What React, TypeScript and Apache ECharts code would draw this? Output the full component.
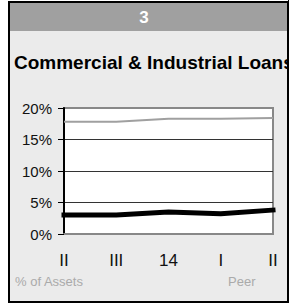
import React, { useEffect, useRef } from "react";
import * as echarts from "echarts";

const categories = ["II", "III", "14", "I", "II"];
const peerValues = [17.8, 17.8, 18.3, 18.3, 18.4];
const bankValues = [3.0, 3.0, 3.5, 3.2, 3.8];
const yTicks = [0, 5, 10, 15, 20];

const FONT = "Liberation Sans, Arial, sans-serif";

export default function App() {
  const ref = useRef<HTMLDivElement>(null);
  useEffect(() => {
    if (!ref.current) return;
    const chart = echarts.init(ref.current, null, { renderer: "svg" });
    chart.setOption({
      animation: false,
      backgroundColor: "#ffffff",
      graphic: [
        {
          type: "rect",
          z: -10,
          shape: { x: 9, y: 2, width: 279, height: 300 },
          style: { fill: "#ebebeb", stroke: "#000", lineWidth: 2 },
        },
        {
          type: "rect",
          z: -9,
          shape: { x: 10, y: 3, width: 277, height: 28 },
          style: { fill: "#a0a0a0" },
        },
        {
          type: "text",
          z: -8,
          x: 144,
          y: 17,
          style: {
            text: "3",
            fill: "#fff",
            font: `bold 17px ${FONT}`,
            align: "center",
            verticalAlign: "middle",
          },
        },
        {
          type: "text",
          z: -8,
          x: 14,
          y: 62,
          style: {
            text: "Commercial & Industrial Loans",
            fill: "#000",
            font: `bold 19px ${FONT}`,
            align: "left",
            verticalAlign: "middle",
          },
        },
        {
          type: "rect",
          z: -7,
          shape: { x: 288, y: 0, width: 4, height: 303 },
          style: { fill: "#000" },
        },
        {
          type: "text",
          x: 15,
          y: 281,
          style: {
            text: "% of Assets",
            fill: "#aaaaaa",
            font: `13px ${FONT}`,
            align: "left",
            verticalAlign: "middle",
          },
        },
        {
          type: "text",
          x: 228,
          y: 281,
          style: {
            text: "Peer",
            fill: "#aaaaaa",
            font: `13px ${FONT}`,
            align: "left",
            verticalAlign: "middle",
          },
        },
      ],
      grid: {
        left: 64,
        right: 16,
        top: 108,
        bottom: 69,
        show: true,
        backgroundColor: "#ffffff",
        borderColor: "#888888",
        borderWidth: 2,
      },
      xAxis: {
        type: "category",
        data: categories.map((c) => ({ value: c, textStyle: { color: "#111111" } })),
        boundaryGap: false,
        axisLine: { show: true, lineStyle: { color: "#888888", width: 2 } },
        axisTick: { show: false },
        axisLabel: {
          color: () => "#111111",
          fontSize: 17,
          fontFamily: FONT,
          margin: 18,
        },
        splitLine: { show: false },
      },
      yAxis: {
        type: "value",
        min: 0,
        max: 20,
        interval: 5,
        axisLine: { show: true, lineStyle: { color: "#000", width: 2 } },
        axisTick: { show: true, length: 6, lineStyle: { color: "#000", width: 1 } },
        axisLabel: {
          color: "#111",
          fontSize: 15,
          fontFamily: FONT,
          margin: 12,
          formatter: (v: number) => (yTicks.includes(v) ? `${v}%` : ""),
        },
        splitLine: {
          show: true,
          lineStyle: { color: ["#888888", "#333333", "#333333", "#333333", "#888888"], width: 1 },
        },
      },
      series: [
        {
          type: "line",
          data: peerValues,
          symbol: "none",
          lineStyle: { color: "#a0a0a0", width: 2 },
          z: 3,
        },
        {
          type: "line",
          data: bankValues,
          symbol: "none",
          lineStyle: { color: "#000", width: 5, cap: "square" },
          z: 4,
        },
      ],
    });
    return () => chart.dispose();
  }, []);
  return (
    <div
      ref={ref}
      style={{ position: "fixed", left: 0, top: 0, width: 289, height: 303 }}
    />
  );
}
